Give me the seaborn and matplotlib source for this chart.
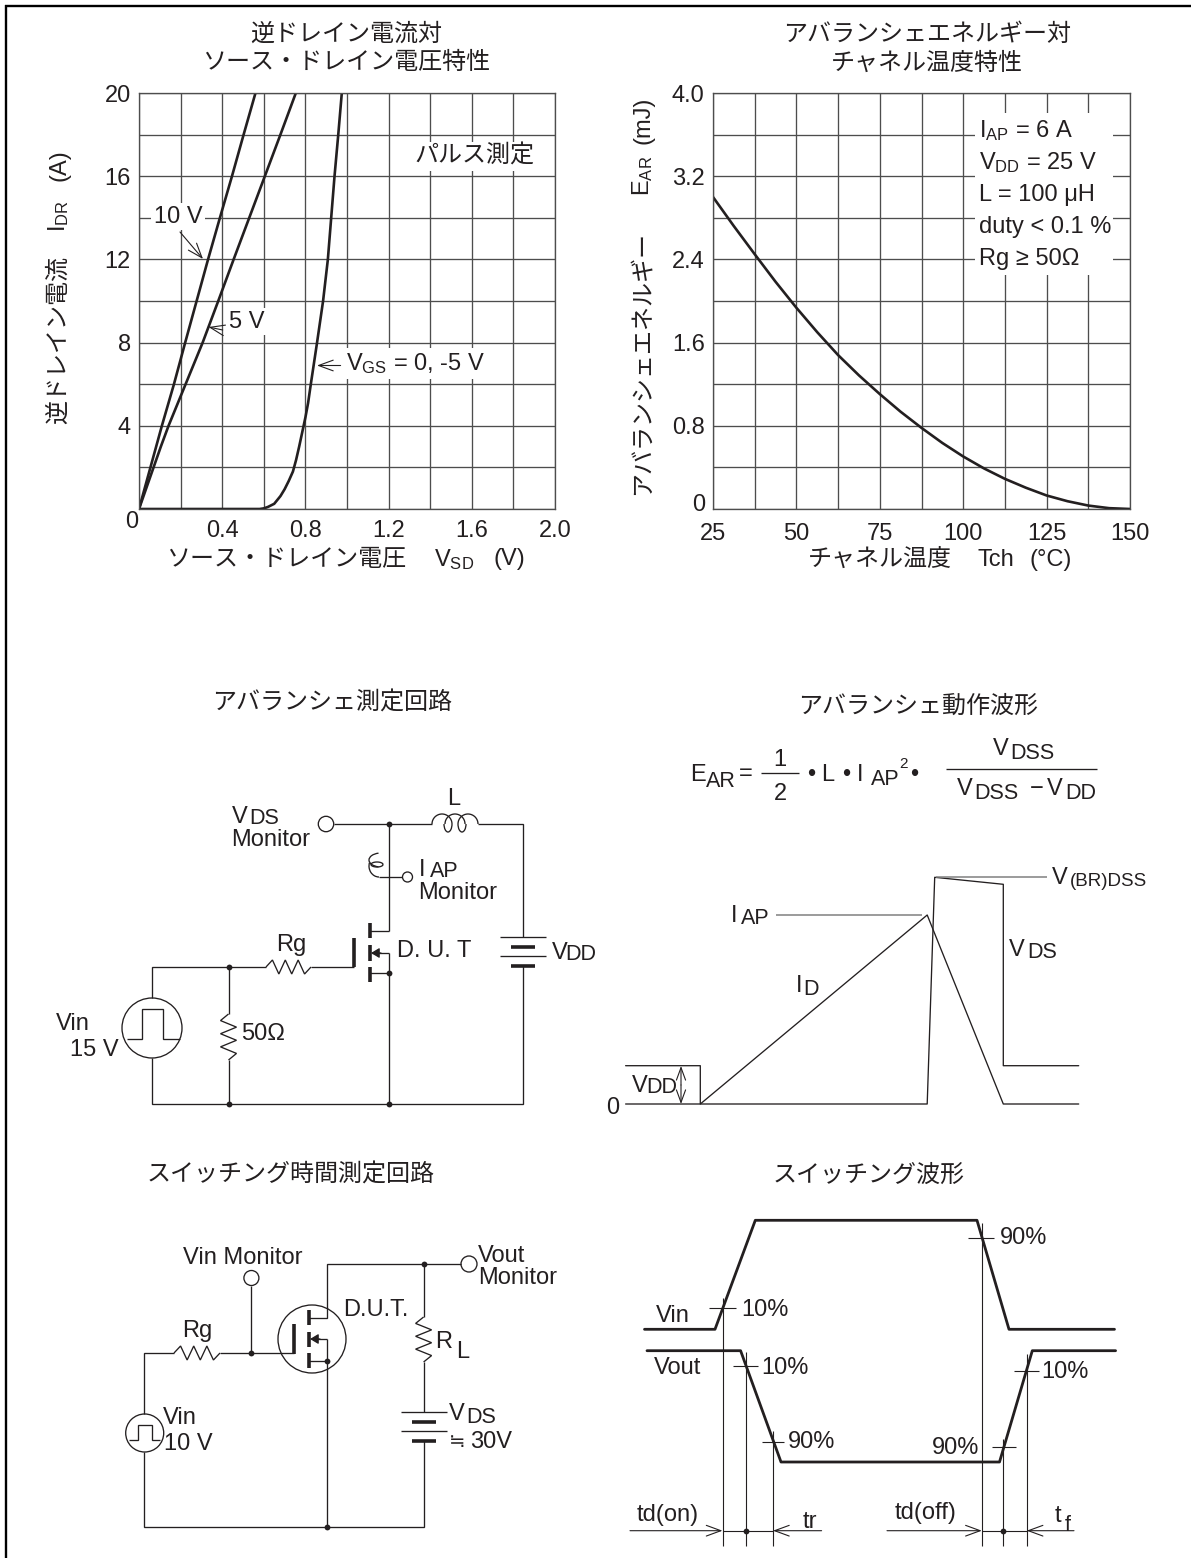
import matplotlib
matplotlib.use("Agg")
import matplotlib.pyplot as plt
from matplotlib.patches import Circle, Rectangle, Arc
import seaborn as sns
import numpy as np

# ---- chart data ----
vsd_10v = [0, 0.055, 0.11, 0.168, 0.222, 0.277, 0.332, 0.389, 0.447, 0.503, 0.56]
idr_10v = [0, 2, 4, 6, 8, 10, 12, 14, 16, 18, 20]
vsd_5v = [0, 0.035, 0.07, 0.105, 0.142, 0.183, 0.224, 0.306, 0.381, 0.455, 0.53, 0.605, 0.68, 0.754]
idr_5v = [0, 1, 2, 3, 4, 5, 6, 8, 10, 12, 14, 16, 18, 20]
vsd_0v = [0, 0.3, 0.58, 0.60, 0.62, 0.65, 0.68, 0.70, 0.72, 0.74, 0.755, 0.77, 0.785, 0.80, 0.813, 0.826, 0.841, 0.856, 0.885, 0.908, 0.924, 0.94, 0.958, 0.975]
idr_0v = [0, 0, 0, 0.03, 0.1, 0.25, 0.62, 0.95, 1.35, 1.8, 2.35, 3.0, 3.7, 4.4, 5.1, 6, 7, 8, 10, 12, 14, 16, 18, 20]

tch = [25, 31.25, 37.5, 43.75, 50, 56.25, 62.5, 68.75, 75, 81.25, 87.5, 93.75, 100, 106.25, 112.5, 118.75, 125, 131.25, 137.5, 143.75, 150]
ear = [3.0, 2.72, 2.45, 2.185, 1.935, 1.70, 1.48, 1.285, 1.105, 0.935, 0.78, 0.635, 0.505, 0.39, 0.29, 0.205, 0.13, 0.075, 0.033, 0.008, 0]

vsd_grid = [0, 0.2, 0.4, 0.6, 0.8, 1.0, 1.2, 1.4, 1.6, 1.8, 2.0]
vsd_labels = ["", "", "0.4", "", "0.8", "", "1.2", "", "1.6", "", "2.0"]
idr_grid = [0, 2, 4, 6, 8, 10, 12, 14, 16, 18, 20]
idr_labels = ["", "", "4", "", "8", "", "12", "", "16", "", "20"]
tch_grid = [25, 37.5, 50, 62.5, 75, 87.5, 100, 112.5, 125, 137.5, 150]
tch_labels = ["25", "", "50", "", "75", "", "100", "", "125", "", "150"]
ear_grid = [0, 0.4, 0.8, 1.2, 1.6, 2.0, 2.4, 2.8, 3.2, 3.6, 4.0]
ear_labels = ["", "", "0.8", "", "1.6", "", "2.4", "", "3.2", "", "4.0"]

# waveforms, in the page scale of the overlay
vds_wave_x = [625.6, 700.3, 700.3, 927.2, 934.7, 1003.3, 1003.3, 1078.7]
vds_wave_y = [1065.7, 1065.7, 1104, 1104, 877.3, 884.3, 1065.7, 1065.7]
id_wave_x = [625.6, 700.3, 927.2, 1003.3, 1078.7]
id_wave_y = [1104, 1104, 915, 1104, 1104]
vin_wave_x = [644.5, 715, 755.3, 977, 1009, 1114.5]
vin_wave_y = [1329.3, 1329.3, 1220.3, 1220.3, 1329.3, 1329.3]
vout_wave_x = [647, 740.6, 781, 999.5, 1032.3, 1115.6]
vout_wave_y = [1350.7, 1350.7, 1462, 1462, 1350.7, 1350.7]

INK = "#231f20"
GRID = "#4d4d4d"
FS = 17
JP = 17.3
SUB = 15.5

sns.set_theme(style="white")
plt.rcParams["font.family"] = ["Liberation Sans", "Noto Sans CJK JP", "DejaVu Sans"]
plt.rcParams["mathtext.fontset"] = "custom"
plt.rcParams["mathtext.rm"] = "Liberation Sans"
plt.rcParams["mathtext.default"] = "regular"

W, H = 1191, 1558
fig = plt.figure(figsize=(W / 100, H / 100), dpi=100)


def make_axes(x0, x1, y0, y1):
    return fig.add_axes([x0 / W, 1 - y1 / H, (x1 - x0) / W, (y1 - y0) / H])


def style_axes(ax, xgrid, ygrid, xlabels, ylabels, xpad):
    ax.set_xlim(xgrid[0], xgrid[-1])
    ax.set_ylim(ygrid[0], ygrid[-1])
    ax.set_xticks(xgrid)
    ax.set_yticks(ygrid)
    ax.set_xticklabels(xlabels)
    ax.set_yticklabels(ylabels)
    ax.grid(True, color=GRID, lw=0.95)
    ax.set_axisbelow(True)
    ax.tick_params(length=0, labelsize=FS, labelcolor=INK)
    ax.tick_params(axis="y", pad=6)
    ax.tick_params(axis="x", pad=xpad)
    for s in ax.spines.values():
        s.set_color(GRID)
        s.set_linewidth(0.95)


# ---- left chart ----
ax1 = make_axes(139, 555, 93, 509)
sns.lineplot(x=vsd_10v, y=idr_10v, ax=ax1, color=INK, lw=1.9, estimator=None, sort=False)
sns.lineplot(x=vsd_5v, y=idr_5v, ax=ax1, color=INK, lw=1.9, estimator=None, sort=False)
sns.lineplot(x=vsd_0v, y=idr_0v, ax=ax1, color=INK, lw=1.9, estimator=None, sort=False)
style_axes(ax1, vsd_grid, idr_grid, vsd_labels, idr_labels, 8)
ax1.set_title("逆ドレイン電流対\nソース・ドレイン電圧特性", x=0.498, fontsize=JP, color=INK, pad=17, linespacing=1.36)
ax1.set_xlabel("ソース・ドレイン電圧", fontsize=JP, color=INK, va="center")
ax1.xaxis.set_label_coords((286 - 139) / 416, (509 - 559.5) / 416)
ax1.set_ylabel("逆ドレイン電流", fontsize=JP, color=INK, va="center")
ax1.yaxis.set_label_coords((59 - 139) / 416, (509 - 340) / 416)

# ---- right chart ----
ax2 = make_axes(713, 1130, 93, 509)
sns.lineplot(x=tch, y=ear, ax=ax2, color=INK, lw=1.9, estimator=None, sort=False)
style_axes(ax2, tch_grid, ear_grid, tch_labels, ear_labels, 10)
ax2.set_title("アバランシェエネルギー対\nチャネル温度特性", x=0.513, fontsize=JP, color=INK, pad=17, linespacing=1.36)
ax2.set_xlabel("チャネル温度", fontsize=JP, color=INK, va="center")
ax2.xaxis.set_label_coords((880 - 713) / 417, (509 - 559.5) / 416)
ax2.set_ylabel("アバランシェエネルギー", fontsize=JP, color=INK, va="center")
ax2.yaxis.set_label_coords((643 - 713) / 417, (509 - 363) / 416)

# ---- overlay in page scale for labels and schematics ----
ov = fig.add_axes([0, 0, 1, 1], zorder=5)
ov.set_xlim(0, W)
ov.set_ylim(H, 0)
ov.axis("off")
ov.patch.set_alpha(0)


def T(x, y, s, size=FS, ha="left", **kw):
    return ov.text(x, y + 1.5, s, fontsize=size, ha=ha, va="center", color=INK, zorder=6, **kw)


def wire(xs, ys, lw=0.95, color=INK):
    ov.plot(xs, ys, color=color, lw=lw, solid_capstyle="butt", solid_joinstyle="miter", zorder=4)


def node(x, y):
    ov.plot([x], [y], "o", color=INK, ms=4.2, mew=0, zorder=5)


def ring(x, y, r):
    ov.add_patch(Circle((x, y), r, fc="white", ec=INK, lw=0.95, zorder=3))


def curl(x, y, w, h, a, b):
    ov.add_patch(Arc((x, y), w, h, theta1=a, theta2=b, color=INK, lw=0.95, zorder=4))


def zigzag(x0, y0, x1, y1, amp=7, n=6):
    # resistor symbol between two points
    t = np.linspace(0, 1, n + 2)
    xs = x0 + (x1 - x0) * t
    ys = y0 + (y1 - y0) * t
    off = np.array([0] + [amp if i % 2 else -amp for i in range(n)] + [0])
    if x0 == x1:
        xs = xs + off
    else:
        ys = ys + off
    wire(xs, ys)


def arrow(x0, y0, x1, y1, scale=7):
    ov.annotate("", xy=(x1, y1), xytext=(x0, y0),
                arrowprops=dict(arrowstyle="->,head_length=1.5,head_width=0.55", lw=0.8, color=INK,
                                shrinkA=0, shrinkB=0, mutation_scale=scale))


def src_arrow(x0, x1, y):
    ov.annotate("", xy=(x1, y), xytext=(x0, y),
                arrowprops=dict(arrowstyle="-|>,head_length=0.5,head_width=0.3", color=INK, lw=0.9,
                                shrinkA=0, shrinkB=0, mutation_scale=10), zorder=5)


def battery(x, y_top):
    wire([x - 23, x + 23], [y_top, y_top])
    wire([x - 12, x + 12], [y_top + 10, y_top + 10], lw=2.6)
    wire([x - 23, x + 23], [y_top + 19, y_top + 19])
    wire([x - 12, x + 12], [y_top + 29, y_top + 29], lw=2.6)


BOX = dict(fc="white", ec="none", pad=2)

# left chart notes
T(132, 520.5, "0", ha="center")
T(433.6, 558, r"V$_{SD}$")
T(509, 557, "(V)", ha="center")
T(474.5, 155, "パルス測定", size=JP, ha="center", bbox=BOX)
T(178, 215, "10 V", ha="center", bbox=BOX)
arrow(180, 232, 203, 259)
T(247, 320, "5 V", ha="center", bbox=BOX)
arrow(222.7, 330, 208.5, 327)
T(345.6, 362, r"V$_{GS}$ = 0, -5 V", bbox=BOX)
arrow(340.6, 365.5, 317, 365.5)
ov.text(59, 216, r"I$_{DR}$", fontsize=FS, rotation=90, ha="center", va="center", color=INK)
ov.text(59, 165, "(A)", fontsize=FS, rotation=90, ha="center", va="center", color=INK)

# right chart notes
T(705, 503.5, "0", ha="right")
ov.add_patch(Rectangle((975, 113), 138, 162, fc="white", ec="none"))
T(979, 129, r"I$_{AP}$ = 6 A")
T(979, 161, r"V$_{DD}$ = 25 V")
T(979, 193, "L = 100 μH")
T(979, 225.5, "duty < 0.1 %")
T(979, 257, "Rg ≥ 50Ω")
T(978, 558, "Tch")
T(1029.7, 558, "(°C)")
ov.text(643, 176, r"E$_{AR}$", fontsize=FS, rotation=90, ha="center", va="center", color=INK)
ov.text(643, 120, "(mJ)", fontsize=FS, rotation=90, ha="center", va="center", color=INK)

# avalanche test circuit
T(332, 702, "アバランシェ測定回路", size=JP, ha="center")
wire([334, 432], [824, 824])
wire([478, 523, 523], [824, 824, 937])
wire([523, 523, 152, 152], [966, 1104, 1104, 1058])
wire([152, 152, 266], [998, 967, 967])
zigzag(266, 967, 311, 967)
wire([311, 354], [967, 967])
wire([228.5, 228.5], [967, 1014])
zigzag(228.5, 1014, 228.5, 1060, amp=8)
wire([228.5, 228.5], [1060, 1104])
wire([389, 389], [824, 931])
wire([389, 370], [931, 931])
wire([389, 389], [953, 1104])
wire([389, 372], [953, 953])
wire([389, 370], [973, 973])
src_arrow(381, 371, 953)
wire([354, 354], [938, 967], lw=2.6)
for ya, yb in ((923, 938), (945, 961), (967, 982)):
    wire([369.7, 369.7], [ya, yb], lw=2.6)
battery(523, 937)
for p in ((389, 824), (228.5, 967), (228.5, 1104), (389, 1104), (389, 973)):
    node(*p)
ring(326, 824, 7.7)
ring(152, 1028, 30)
wire([127, 141.6, 141.6, 163.4, 163.4, 180], [1039, 1039, 1009, 1009, 1039, 1039])
# inductor
for cx in (442, 455, 468):
    curl(cx, 824, 20, 20, 180, 360)
for cx in (448, 462):
    curl(cx, 824, 8, 16, 0, 180)
# current probe
curl(381, 860, 24, 14, 110, 250)
curl(377, 864.5, 12, 5, 0, 360)
curl(379, 866, 20, 22, 90, 200)
wire([379, 402], [877, 877])
ring(407.5, 877, 5)
T(231.5, 815, "V")
T(249, 817, "DS", size=SUB)
T(231.5, 838, "Monitor")
T(454, 797, "L", ha="center")
T(419, 868, "I")
T(430, 870, "AP", size=SUB)
T(418, 891, "Monitor")
T(291, 943, "Rg", ha="center")
T(397, 949, "D. U. T")
T(552, 951, "V")
T(565, 953, "DD", size=SUB)
T(55.5, 1022, "Vin")
T(70, 1049, "15 V")
T(241, 1033, "50Ω")

# avalanche waveform
T(918.5, 705, "アバランシェ動作波形", size=JP, ha="center")
T(690, 773, "E")
T(705.5, 780, "AR", size=SUB)
T(746, 772, "=", ha="center")
wire([761, 799], [773, 773])
T(780, 758, "1", ha="center")
T(780, 792, "2", ha="center")
T(811, 773, "•", ha="center")
T(828, 773, "L", ha="center")
T(846, 773, "•", ha="center")
T(860, 773, "I", ha="center")
T(871, 778, "AP", size=SUB)
T(903, 762, "2", size=11, ha="center")
T(914, 773, "•", ha="center")
wire([946, 1097], [769, 769])
T(993, 747, "V")
T(1010, 752, "DSS", size=SUB)
T(957, 787, "V")
T(974, 792, "DSS", size=SUB)
T(1037, 787, "−", ha="center")
T(1047, 787, "V")
T(1065, 792, "DD", size=SUB)
sns.lineplot(x=vds_wave_x, y=vds_wave_y, ax=ov, color=INK, lw=0.95, estimator=None, sort=False)
sns.lineplot(x=id_wave_x, y=id_wave_y, ax=ov, color=INK, lw=0.95, estimator=None, sort=False)
wire([776, 922], [915, 915], color="#808080", lw=1.1)
wire([935.5, 1046.7], [876.7, 876.7], color="#808080", lw=1.1)
arrow(681, 1085, 681, 1066, scale=6)
arrow(681, 1085, 681, 1104, scale=6)
T(613, 1107, "0", ha="center")
T(632, 1084, "V")
T(646, 1086, "DD", size=SUB)
T(731, 914, "I")
T(741, 917, "AP", size=SUB)
T(796, 984, "I")
T(803.5, 988, "D", size=SUB)
T(1009, 948, "V")
T(1027, 951, "DS", size=SUB)
T(1051.5, 876, "V")
T(1070, 880, "(BR)DSS", size=13.5)

# switching test circuit
T(291, 1174, "スイッチング時間測定回路", size=JP, ha="center")
T(183, 1257, "Vin Monitor")
wire([251.4, 251.4], [1286, 1353])
wire([144, 144, 174], [1414, 1353, 1353])
zigzag(174, 1353, 220, 1353)
wire([220, 293.5], [1353, 1353])
wire([144, 144, 423.6, 423.6], [1452, 1527, 1527, 1441])
wire([423.6, 423.6], [1362, 1412])
wire([423.6, 423.6], [1264, 1317])
zigzag(423.6, 1317, 423.6, 1362, amp=8)
ring(312, 1339, 34)
wire([308.5, 327, 327, 461], [1318, 1318, 1264, 1264])
wire([327, 327], [1339, 1527])
wire([327, 313], [1339, 1339])
wire([308.5, 327], [1361, 1361])
src_arrow(320, 310, 1339)
wire([293.5, 293.5], [1324, 1354], lw=2.6)
for ya, yb in ((1310, 1325), (1332, 1347), (1353, 1368)):
    wire([308.5, 308.5], [ya, yb], lw=2.6)
battery(423.6, 1412)
ring(251.4, 1278, 7.5)
ring(469, 1264, 8)
ring(144.7, 1433, 19)
wire([129, 138, 138, 152, 152, 160], [1440, 1440, 1425, 1425, 1440, 1440])
for p in ((251.4, 1353), (423.6, 1264), (327, 1527), (327, 1361)):
    node(*p)
T(197, 1330, "Rg", ha="center")
T(343, 1309, "D.U.T.")
T(435, 1340, "R")
T(456, 1350, "L")
T(478, 1254, "Vout")
T(478, 1277, "Monitor")
T(162.6, 1417, "Vin")
T(164.5, 1443, "10 V")
T(448.5, 1413, "V")
T(466, 1416, "DS", size=SUB)
T(449, 1441, "≒", size=14)
T(470, 1440, "30V")

# switching waveform
T(868.4, 1174, "スイッチング波形", size=JP, ha="center")
sns.lineplot(x=vin_wave_x, y=vin_wave_y, ax=ov, color=INK, lw=2.0, estimator=None, sort=False)
sns.lineplot(x=vout_wave_x, y=vout_wave_y, ax=ov, color=INK, lw=2.0, estimator=None, sort=False)
for x, y_top in ((722.5, 1298), (745.9, 1352), (773, 1430.7), (981.8, 1223), (1003.3, 1439), (1026.7, 1354)):
    wire([x, x], [y_top, 1546], lw=0.8)
for xa, xb, y in ((708.6, 735.7, 1308), (967.5, 994, 1238), (732.7, 758, 1365.7),
                  (762, 783.6, 1441.7), (992, 1015.8, 1447.3), (1013.5, 1039, 1370.7)):
    wire([xa, xb], [y, y], lw=0.8)
wire([722.5, 773], [1530.7, 1530.7], lw=0.8)
wire([981.8, 1026.7], [1530.7, 1530.7], lw=0.8)
arrow(630, 1530.7, 722.5, 1530.7)
arrow(821.6, 1530.7, 773, 1530.7)
arrow(887, 1530.7, 981.8, 1530.7)
arrow(1074, 1530.7, 1026.7, 1530.7)
node(745.9, 1530.7)
node(1003.3, 1530.7)
T(999.5, 1237, "90%")
T(741, 1308, "10%")
T(656, 1315, "Vin")
T(653.5, 1367, "Vout")
T(761, 1367, "10%")
T(788, 1441, "90%")
T(932, 1446, "90%")
T(1041, 1370, "10%")
T(636.6, 1513, "td(on)")
T(802.4, 1520, "tr")
T(895, 1512, "td(off)")
T(1055, 1514, "t")
T(1064.4, 1524, "f", size=SUB)

# page frame: top and left rules only
wire([5, 1191], [6, 6], lw=1.7, color="black")
wire([6, 6], [5, 1558], lw=1.7, color="black")

fig.savefig("out.png", dpi=100)
